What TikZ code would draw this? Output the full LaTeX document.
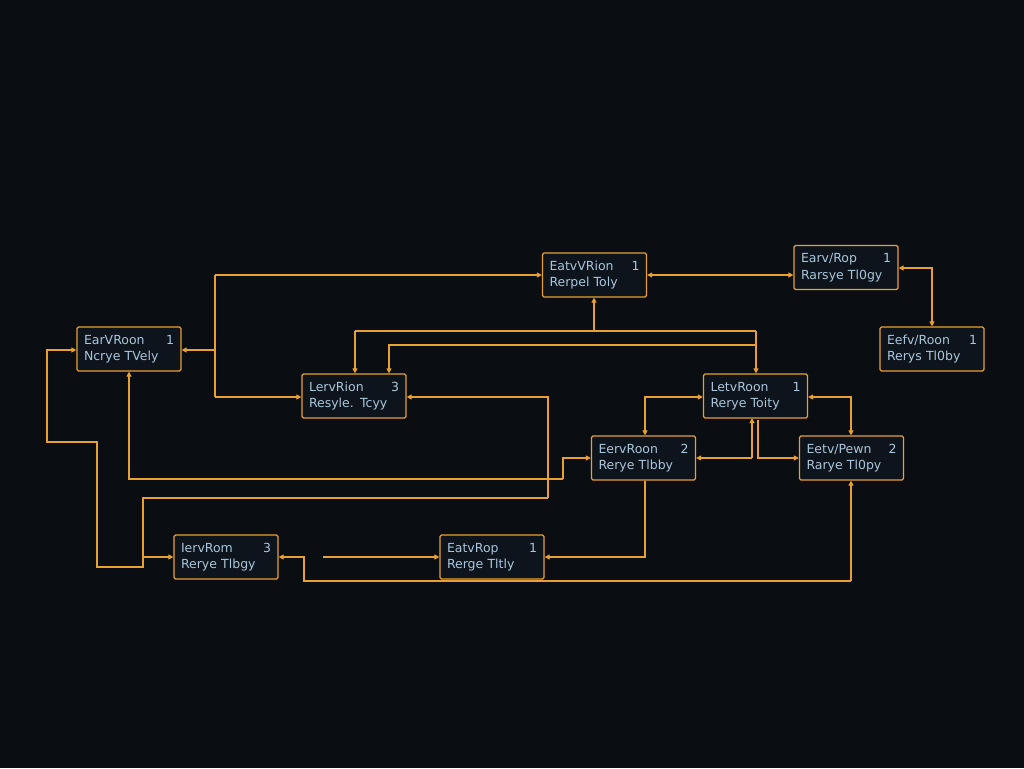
\documentclass[tikz,border=0pt]{standalone}
\usepackage{fontspec}
\setmainfont{DejaVu Sans}
\usetikzlibrary{arrows.meta}
\definecolor{bg}{HTML}{0A0D12}
\definecolor{ln}{HTML}{E8A030}
\definecolor{tx}{HTML}{A9C6DC}
\definecolor{bx}{HTML}{0E141B}
\begin{document}
\begin{tikzpicture}[x=1pt,y=-1pt,
  box/.style={draw=ln,fill=bx,line width=1.2pt,rounded corners=1.5pt,minimum width=104pt,minimum height=44pt,inner sep=0pt,text=tx,font=\fontsize{12.5}{16.5}\selectfont,text width=90pt,align=left},
  ed/.style={draw=ln,line width=1.1pt,-{Triangle[length=5pt,width=5pt]}},
  bi/.style={draw=ln,line width=1.1pt,{Triangle[length=5pt,width=5pt]}-{Triangle[length=5pt,width=5pt]}},
  pl/.style={draw=ln,line width=1.1pt}]
\fill[bg] (0,0) rectangle (1024,768);
\useasboundingbox (0,0) rectangle (1024,768);
\node[box] (A) at (594.5,275) {EatvVRion\hfill 1\\Rerpel Toly};
\node[box] (B) at (846,267.5) {Earv/Rop\hfill 1\\Rarsye Tl0gy};
\node[box] (C) at (932,349) {Eefv/Roon\hfill 1\\Rerys Tl0by};
\node[box] (D) at (129,349) {EarVRoon\hfill 1\\Ncrye TVely};
\node[box] (E) at (354,396) {LervRion\hfill 3\\Resyle. Tcyy};
\node[box] (F) at (755.5,396) {LetvRoon\hfill 1\\Rerye Toity};
\node[box] (G) at (643.5,458) {EervRoon\hfill 2\\Rerye Tlbby};
\node[box] (H) at (851.5,458) {Eetv/Pewn\hfill 2\\Rarye Tl0py};
\node[box] (I) at (226,557) {IervRom\hfill 3\\Rerye Tlbgy};
\node[box] (J) at (492,557) {EatvRop\hfill 1\\Rerge Tltly};
\coordinate (s1) at (323,557);
\draw[pl] (215,275) -- (215,397);
\draw[ed] (215,275) -- (A.west |- 0,275);
\draw[ed] (215,350) -- (D.east |- 0,350);
\draw[ed] (215,397) -- (E.west |- 0,397);
\draw[bi] (A.east |- 0,275) -- (B.west |- 0,275);
\draw[bi] (B.east |- 0,268) -| (C.north);
\draw[ed] (594,331) -- (A.south -| 594,0);
\draw[pl] (355,331) -- (756,331);
\draw[ed] (355,331) -- (E.north -| 355,0);
\draw[ed] (756,331) -- (F.north -| 756,0);
\draw[ed] (756,345) -- (389,345) -- (E.north -| 389,0);
\draw[ed] (548,498) -- (548,397) -- (E.east |- 0,397);
\draw[ed] (548,498) -- (143,498) -- (143,557) -- (I.west |- 0,557);
\draw[ed] (143,557) |- (97,567) |- (47,442) |- (D.west |- 0,350);
\draw[ed] (563,479) -- (129,479) -- (D.south -| 129,0);
\draw[ed] (563,479) |- (G.west |- 0,458);
\draw[bi] (F.west |- 0,397) -| (G.north -| 645,0);
\draw[bi] (F.east |- 0,397) -| (H.north -| 851,0);
\draw[ed] (752,458) -- (752,418);
\draw[ed] (752,458) -- (G.east |- 0,458);
\draw[ed] (758,420) |- (H.west |- 0,458);
\draw[ed] (G.south -| 645,0) |- (J.east |- 0,557);
\draw[ed] (851,581) -- (H.south -| 851,0);
\draw[ed] (851,581) -| (304,557) -- (I.east |- 0,557);
\draw[ed] (s1) -- (J.west |- 0,557);
\end{tikzpicture}
\end{document}
